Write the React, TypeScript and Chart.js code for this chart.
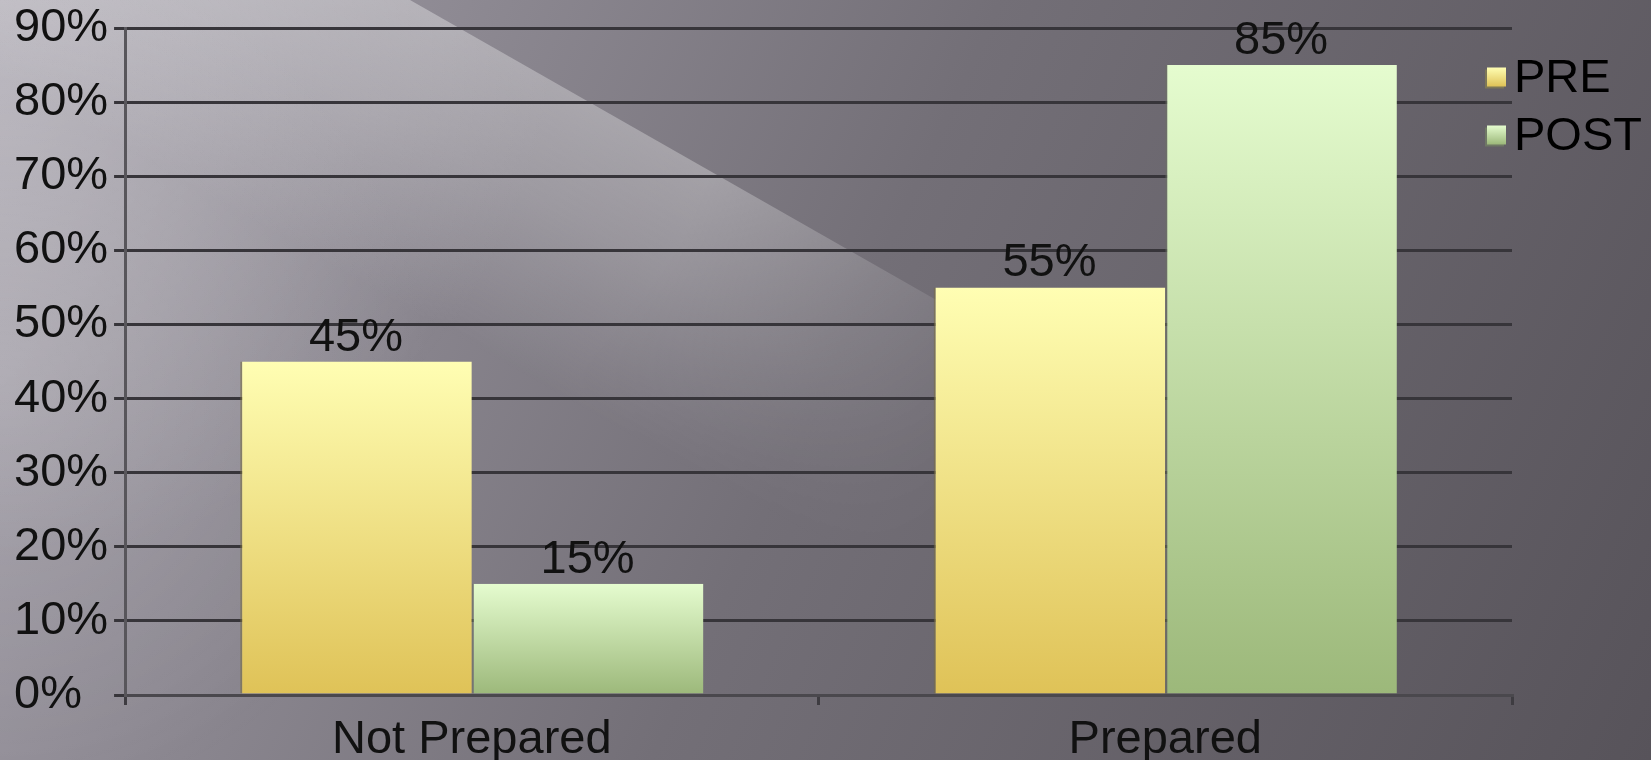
import { useEffect, useRef } from 'react';
import { Chart, registerables } from 'chart.js';

Chart.register(...registerables);

const categories = ['Not Prepared', 'Prepared'];
const seriesNames = ['PRE', 'POST'];
const preValues = [45, 55];
const postValues = [15, 85];
const yMin = 0;
const yMax = 90;
const yStep = 10;

const FONT = "'Liberation Sans', Arial, Helvetica, sans-serif";
const FONT_SIZE = 47;

const PRE_TOP = '#fffeb3';
const PRE_BOTTOM = '#dfc257';
const POST_TOP = '#e5fccf';
const POST_BOTTOM = '#9cb87a';

const backgroundPlugin = {
  id: 'slideBackground',
  beforeDraw(chart: any) {
    const { ctx, width, height } = chart;
    ctx.save();
    const base = ctx.createLinearGradient(0, 0, width, height);
    base.addColorStop(0, '#a4a0aa');
    base.addColorStop(0.5, '#736f77');
    base.addColorStop(1, '#57535a');
    ctx.fillStyle = base;
    ctx.fillRect(0, 0, width, height);

    const off = document.createElement('canvas');
    off.width = width;
    off.height = height;
    const o = off.getContext('2d') as CanvasRenderingContext2D;
    const slope = 0.57;
    const x0 = 410;
    const clipLight = () => {
      o.beginPath();
      o.moveTo(x0, 0);
      o.lineTo(x0 + height / slope, height);
      o.lineTo(0, height);
      o.lineTo(0, 0);
      o.closePath();
      o.clip();
    };

    // diagonal light stripe with a sharp upper edge
    o.save();
    clipLight();
    const nx = -0.495;
    const ny = 0.869;
    const stripe = o.createLinearGradient(x0, 0, x0 + nx * 270, ny * 270);
    stripe.addColorStop(0, 'rgba(255,255,255,0.30)');
    stripe.addColorStop(0.4, 'rgba(255,255,255,0.20)');
    stripe.addColorStop(1, 'rgba(255,255,255,0)');
    o.fillStyle = stripe;
    o.fillRect(0, 0, width, height);
    o.restore();

    // fade the stripe toward the lower right
    o.globalCompositeOperation = 'destination-in';
    const mask = o.createRadialGradient(350, 50, 0, 350, 50, 760);
    mask.addColorStop(0, 'rgba(0,0,0,1)');
    mask.addColorStop(0.5, 'rgba(0,0,0,1)');
    mask.addColorStop(1, 'rgba(0,0,0,0)');
    o.fillStyle = mask;
    o.fillRect(0, 0, width, height);
    o.globalCompositeOperation = 'source-over';

    o.save();
    clipLight();
    const corner = o.createRadialGradient(0, 0, 0, 0, 0, 560);
    corner.addColorStop(0, 'rgba(255,255,255,0.26)');
    corner.addColorStop(1, 'rgba(255,255,255,0)');
    o.fillStyle = corner;
    o.fillRect(0, 0, width, height);

    const lowLeft = o.createRadialGradient(0, 380, 0, 0, 380, 430);
    lowLeft.addColorStop(0, 'rgba(255,255,255,0.14)');
    lowLeft.addColorStop(1, 'rgba(255,255,255,0)');
    o.fillStyle = lowLeft;
    o.fillRect(0, 0, width, height);
    o.restore();

    ctx.drawImage(off, 0, 0, width, height);
    ctx.restore();
  },
};

const valueLabelPlugin = {
  id: 'valueLabels',
  afterDatasetsDraw(chart: any) {
    const { ctx } = chart;
    ctx.save();
    ctx.font = `${FONT_SIZE}px ${FONT}`;
    ctx.fillStyle = '#111111';
    ctx.textAlign = 'center';
    ctx.textBaseline = 'alphabetic';
    chart.data.datasets.forEach((ds: any, i: number) => {
      const meta = chart.getDatasetMeta(i);
      meta.data.forEach((el: any, j: number) => {
        ctx.fillText(`${ds.data[j]}%`, el.x, el.y - 11);
      });
    });
    ctx.restore();
  },
};

const legendPlugin = {
  id: 'sideLegend',
  afterDraw(chart: any) {
    const { ctx } = chart;
    const area = chart.chartArea;
    const boxX = area.right - 25;
    const textX = area.right + 2;
    const rows = [77, 135];
    const colors = [
      [PRE_TOP, PRE_BOTTOM, '#7d7757'],
      [POST_TOP, POST_BOTTOM, '#6f7865'],
    ];
    ctx.save();
    chart.data.datasets.forEach((ds: any, i: number) => {
      const cy = rows[i];
      const s = 19;
      const top = cy - s / 2;
      ctx.fillStyle = colors[i][2];
      ctx.fillRect(boxX - 2, top + 2, s, s);
      const g = ctx.createLinearGradient(0, top, 0, top + s);
      g.addColorStop(0, colors[i][0]);
      g.addColorStop(1, colors[i][1]);
      ctx.fillStyle = g;
      ctx.fillRect(boxX, top, s, s);
      ctx.font = `${FONT_SIZE}px ${FONT}`;
      ctx.fillStyle = '#000000';
      ctx.textAlign = 'left';
      ctx.textBaseline = 'middle';
      ctx.fillText(ds.label, textX, cy + 2);
    });
    ctx.restore();
  },
};

function barGradient(top: string, bottom: string) {
  return (context: any) => {
    const chart = context.chart;
    const area = chart.chartArea;
    if (!area || context.type !== 'data' || !chart.scales.y) return bottom;
    const y = chart.scales.y.getPixelForValue(context.raw);
    const g = chart.ctx.createLinearGradient(0, y, 0, area.bottom);
    g.addColorStop(0, top);
    g.addColorStop(1, bottom);
    return g;
  };
}

export default function App() {
  const ref = useRef<HTMLCanvasElement>(null);

  useEffect(() => {
    document.body.style.margin = '0';
    const canvas = ref.current;
    if (!canvas) return;
    const chart = new Chart(canvas, {
      type: 'bar',
      data: {
        labels: categories,
        datasets: [
          {
            label: seriesNames[0],
            data: preValues,
            backgroundColor: barGradient(PRE_TOP, PRE_BOTTOM),
            borderColor: 'rgba(120,110,70,0.6)',
            borderWidth: { left: 2, top: 0, right: 0, bottom: 0 },
            categoryPercentage: 0.668,
            barPercentage: 1,
          },
          {
            label: seriesNames[1],
            data: postValues,
            backgroundColor: barGradient(POST_TOP, POST_BOTTOM),
            borderColor: 'rgba(110,115,100,0.55)',
            borderWidth: { left: 2, top: 0, right: 0, bottom: 0 },
            categoryPercentage: 0.668,
            barPercentage: 1,
          },
        ],
      },
      options: {
        animation: false,
        responsive: true,
        maintainAspectRatio: false,
        layout: { padding: { left: 14, right: 139, top: 28, bottom: 0 } },
        plugins: {
          legend: { display: false },
          tooltip: { enabled: false },
        },
        scales: {
          x: {
            afterFit: (scale: any) => {
              scale.height = 65;
            },
            grid: {
              display: true,
              drawOnChartArea: false,
              drawTicks: true,
              tickLength: 10,
              color: '#3e3c41',
              lineWidth: 3,
            },
            border: { display: true, color: '#4a484d', width: 3 },
            ticks: {
              color: '#111111',
              padding: 7,
              font: { family: FONT, size: FONT_SIZE },
            },
          },
          y: {
            min: yMin,
            max: yMax,
            ticks: {
              stepSize: yStep,
              color: '#111111',
              padding: 3,
              crossAlign: 'far',
              font: { family: FONT, size: FONT_SIZE, lineHeight: 1 },
              callback: (v: any) => `${v}%`,
            },
            grid: {
              color: '#37353a',
              lineWidth: 3,
              tickLength: 11,
              drawTicks: true,
            },
            border: { display: true, color: '#58565b', width: 3 },
          },
        },
      },
      plugins: [backgroundPlugin, valueLabelPlugin, legendPlugin],
    });
    return () => chart.destroy();
  }, []);

  return (
    <div style={{ position: 'relative', width: 1651, height: 760 }}>
      <canvas ref={ref} />
    </div>
  );
}
